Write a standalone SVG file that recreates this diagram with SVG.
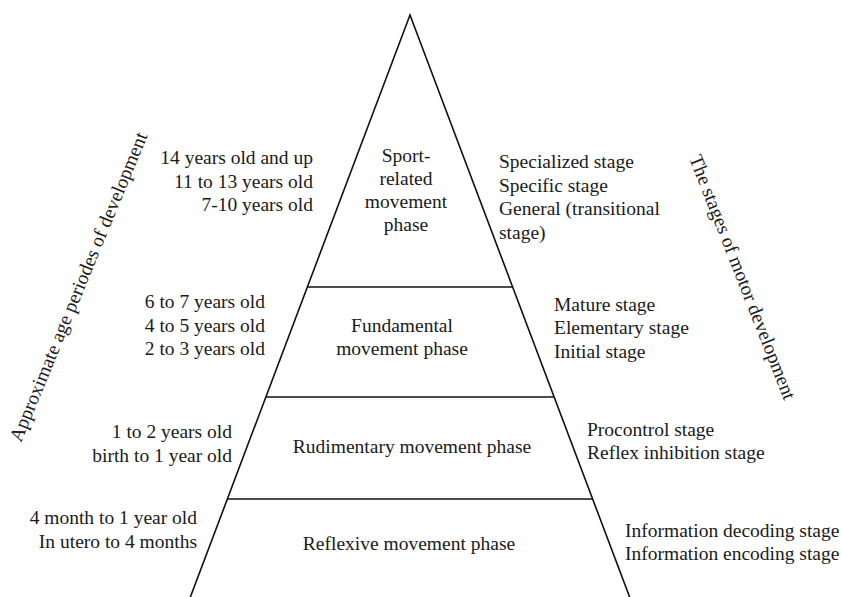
<svg xmlns="http://www.w3.org/2000/svg" width="842" height="597" viewBox="0 0 842 597">
<style>
text{font-family:"Liberation Serif","Times New Roman",Times,Tinos,"Nimbus Roman","Nimbus Roman No9 L","DejaVu Serif","Noto Serif",FreeSerif,serif;font-size:19.5px;fill:#1a1a1a}
.r{text-anchor:end}
.m{text-anchor:middle}
.ln{stroke:#111;stroke-width:1.6;fill:none}
</style>
<rect width="842" height="597" fill="#fff"/>
<g id="connectors">
<path class="ln" d="M190,598 L410,15 L630,598"/>
<line class="ln" x1="307" y1="287" x2="513" y2="287"/>
<line class="ln" x1="266" y1="397" x2="554" y2="397"/>
<line class="ln" x1="227" y1="499" x2="593" y2="499"/>
</g>
<g id="sport">
<text class="m" x="406" y="162">Sport-</text>
<text class="m" x="406" y="185">related</text>
<text class="m" x="406" y="208">movement</text>
<text class="m" x="406" y="231">phase</text>
</g>
<g id="fundamental">
<text class="m" x="402" y="332">Fundamental</text>
<text class="m" x="402" y="355">movement phase</text>
</g>
<g id="rudimentary">
<text class="m" x="412" y="453">Rudimentary movement phase</text>
</g>
<g id="reflexive">
<text class="m" x="409" y="550">Reflexive movement phase</text>
</g>
<g id="ages">
<text class="r" x="313" y="164">14 years old and up</text>
<text class="r" x="313" y="187.5">11 to 13 years old</text>
<text class="r" x="313" y="211">7-10 years old</text>
<text class="r" x="265" y="308">6 to 7 years old</text>
<text class="r" x="265" y="331.5">4 to 5 years old</text>
<text class="r" x="265" y="355">2 to 3 years old</text>
<text class="r" x="232" y="437.5">1 to 2 years old</text>
<text class="r" x="232" y="461.5">birth to 1 year old</text>
<text class="r" x="197" y="524">4 month to 1 year old</text>
<text class="r" x="197" y="547.5">In utero to 4 months</text>
</g>
<g id="stages">
<text x="499" y="168">Specialized stage</text>
<text x="499" y="191.5">Specific stage</text>
<text x="499" y="215">General (transitional</text>
<text x="499" y="238.5">stage)</text>
<text x="554" y="310.5">Mature stage</text>
<text x="554" y="334">Elementary stage</text>
<text x="554" y="357.5">Initial stage</text>
<text x="587" y="435.5">Procontrol stage</text>
<text x="587" y="459">Reflex inhibition stage</text>
<text x="625" y="536.5">Information decoding stage</text>
<text x="625" y="559.5">Information encoding stage</text>
</g>
<g id="axis-age">
<text transform="translate(21,443) rotate(-67.6)">Approximate age periodes of development</text>
</g>
<g id="axis-stages">
<text transform="translate(689,158) rotate(68.6)">The stages of motor development</text>
</g>
</svg>
